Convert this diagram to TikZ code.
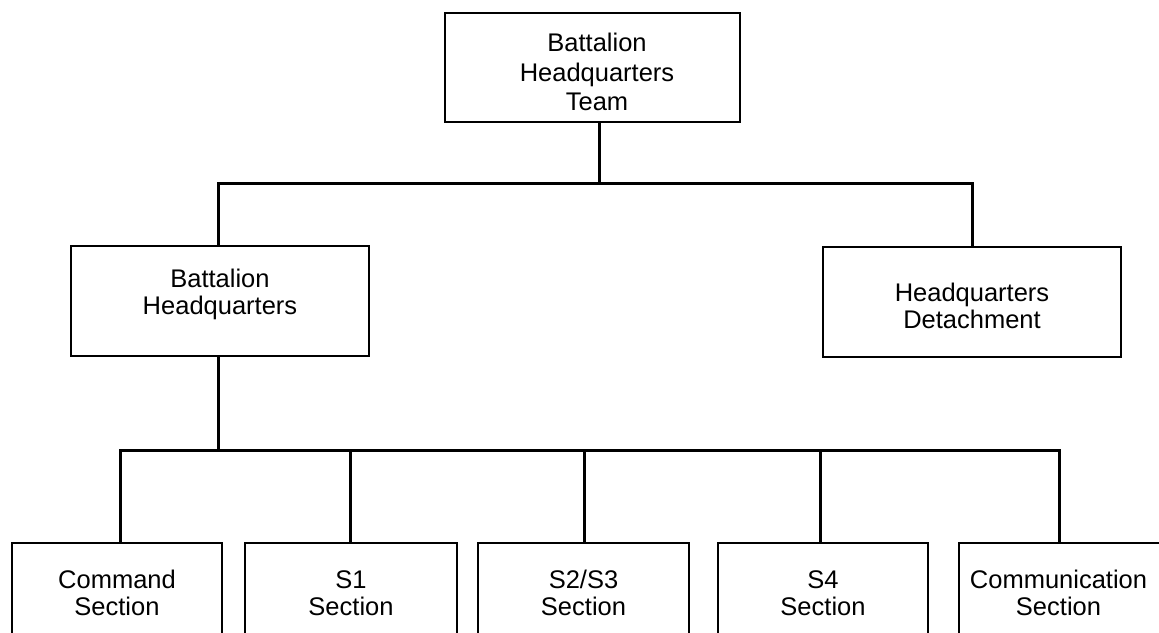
\documentclass[tikz,border=0pt]{standalone}
\usepackage{fontspec}
\setmainfont{Liberation Sans}
\begin{document}
\begin{tikzpicture}[x=1pt,y=-1pt,
  box/.style={draw, line width=2.8pt, inner sep=0pt},
  lbl/.style={align=center, inner sep=0pt, anchor=north, font=\fontsize{25.5}{27}\selectfont},
  wire/.style={line width=3pt, line join=miter}]
\useasboundingbox (0,0) rectangle (1159,632);
% boxes
\node[box, minimum width=295pt, minimum height=109pt] (top) at (592.5,67.5) {};
\node[box, minimum width=298pt, minimum height=110pt] (bhq) at (220,301) {};
\node[box, minimum width=298pt, minimum height=110pt] (hqd) at (972,302) {};
\node[box, minimum width=210pt, minimum height=117pt] (cmd) at (117,601.5) {};
\node[box, minimum width=212pt, minimum height=117pt] (s1) at (351,601.5) {};
\node[box, minimum width=211pt, minimum height=117pt] (s23) at (583.5,601.5) {};
\node[box, minimum width=210pt, minimum height=117pt] (s4) at (823,601.5) {};
\node[box, minimum width=203pt, minimum height=117pt] (comm) at (1060.5,601.5) {};
% labels
\node[lbl, font=\fontsize{25.5}{29.5}\selectfont] (topt) at (597,33) {Battalion\\Headquarters\\Team};
\node[lbl] (bhqt) at (220,269) {Battalion\\Headquarters};
\node[lbl] (hqdt) at (972,283) {Headquarters\\Detachment};
\node[lbl] (cmdt) at (117,570) {Command\\Section};
\node[lbl] (s1t) at (351,570) {S1\\Section};
\node[lbl] (s23t) at (583.5,570) {S2/S3\\Section};
\node[lbl] (s4t) at (823,570) {S4\\Section};
\node[lbl] (commt) at (1058.5,570) {Communication\\Section};
% junctions
\coordinate (j1) at (599,183);
\coordinate (j1l) at (218,183);
\coordinate (j1r) at (972,183);
\coordinate (j2) at (218,450);
\coordinate (b1) at (120,450);
\coordinate (b2) at (350,450);
\coordinate (b3) at (584,450);
\coordinate (b4) at (820,450);
\coordinate (b5) at (1059,450);
% connectors
\draw[wire] (top.south -| j1) -- (j1);
\draw[wire] (bhq.north -| j1l) -- (j1l) -- (j1r) -- (hqd.north -| j1r);
\draw[wire] (bhq.south -| j2) -- (j2);
\draw[wire] (cmd.north -| b1) -- (b1) -- (b5) -- (comm.north -| b5);
\draw[wire] (s1.north -| b2) -- (b2);
\draw[wire] (s23.north -| b3) -- (b3);
\draw[wire] (s4.north -| b4) -- (b4);
\end{tikzpicture}
\end{document}
